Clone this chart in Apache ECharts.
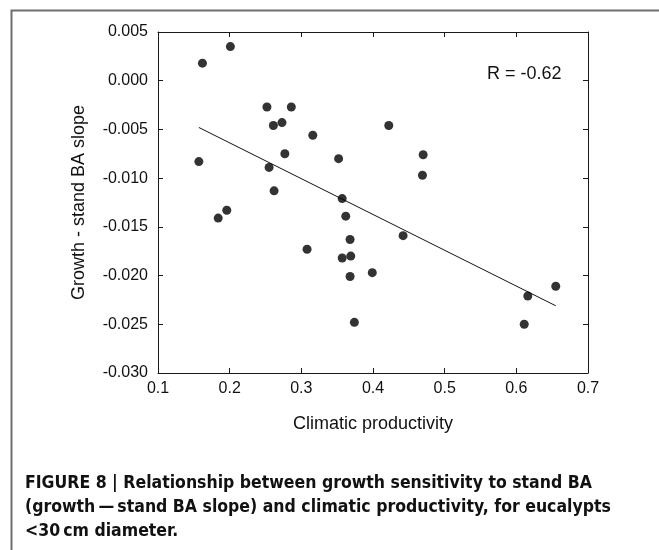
<!DOCTYPE html>
<html>
<head>
<meta charset="utf-8">
<script src="https://cdn.jsdelivr.net/npm/echarts@6/dist/echarts.min.js"></script>
<style>
html,body{margin:0;padding:0;background:#fff;}
#chart{width:659px;height:550px;}
</style>
</head>
<body>
<div id="chart"></div>
<script>
// Climatic productivity (x) and growth - stand BA slope (y)
const xValues = [0.162, 0.201, 0.157, 0.252, 0.286, 0.261, 0.273, 0.316, 0.277, 0.255,
                 0.262, 0.422, 0.352, 0.470, 0.469, 0.357, 0.184, 0.196, 0.308, 0.362,
                 0.368, 0.442, 0.357, 0.369, 0.399, 0.368, 0.374, 0.611, 0.616, 0.655];
const yValues = [0.0018, 0.0035, -0.0083, -0.0027, -0.0027, -0.0046, -0.0043, -0.0056, -0.0075, -0.0089,
                 -0.0113, -0.0046, -0.0080, -0.0076, -0.0097, -0.0121, -0.0141, -0.0133, -0.0173, -0.0139,
                 -0.0163, -0.0159, -0.0182, -0.0180, -0.0197, -0.0201, -0.0248, -0.0250, -0.0221, -0.0211];
// fitted line endpoints
const trendX = [0.157, 0.655];
const trendY = [-0.0048, -0.0231];
const xTicks = [0.1, 0.7, 0.1];   // min, max, interval
const yTicks = [-0.030, 0.005, 0.005];
const rLabel = 'R = -0.62';
const xName = 'Climatic productivity';
const yName = 'Growth - stand BA slope';
const captionLines = [
  'FIGURE 8 | Relationship between growth sensitivity to stand BA',
  '(growth\u2009\u2014\u2009stand BA slope) and climatic productivity, for eucalypts',
  '<30\u2009cm diameter.'
];

const chart = echarts.init(document.getElementById('chart'), null, {renderer: 'canvas'});
const axFont = 'Liberation Sans, Arial, sans-serif';
const lineCol = '#1a1a1a';
const baseX = {
  type: 'value', min: xTicks[0], max: xTicks[1], interval: xTicks[2],
  splitLine: {show: false},
  axisLine: {show: true, onZero: false, lineStyle: {color: lineCol, width: 1}},
  axisTick: {show: true, inside: true, length: 5, lineStyle: {color: lineCol}},
};
const baseY = {
  type: 'value', min: yTicks[0], max: yTicks[1], interval: yTicks[2],
  splitLine: {show: false},
  axisLine: {show: true, onZero: false, lineStyle: {color: lineCol, width: 1}},
  axisTick: {show: true, inside: true, length: 5, lineStyle: {color: lineCol}},
};
const pts = xValues.map((x, i) => [x, yValues[i]]);
const trend = trendX.map((x, i) => [x, trendY[i]]);

const captionGraphics = captionLines.map((t, i) => ({
  type: 'text', left: 25, top: 474 + i * 24,
  style: {text: t, fill: '#111', font: 'bold 17.5px "Liberation Sans Narrow", "DejaVu Sans Condensed", sans-serif'}
}));

chart.setOption({
  animation: false,
  backgroundColor: '#fff',
  grid: {left: 158, top: 32, right: 71, bottom: 177, containLabel: false},
  xAxis: [
    Object.assign({}, baseX, {
      position: 'bottom',
      name: xName, nameLocation: 'middle', nameGap: 42,
      nameTextStyle: {fontSize: 18, color: '#111', fontFamily: axFont},
      axisLabel: {fontSize: 16, color: '#111', fontFamily: axFont, margin: 8,
                  formatter: v => v.toFixed(1)}
    }),
    Object.assign({}, baseX, {position: 'top', axisLabel: {show: false}})
  ],
  yAxis: [
    Object.assign({}, baseY, {
      position: 'left',
      name: yName, nameLocation: 'middle', nameGap: 70,
      nameTextStyle: {fontSize: 18, color: '#111', fontFamily: axFont},
      axisLabel: {fontSize: 16, color: '#111', fontFamily: axFont, margin: 10,
                  formatter: v => (Math.abs(v) < 1e-9 ? 0 : v).toFixed(3)}
    }),
    Object.assign({}, baseY, {position: 'right', axisLabel: {show: false}})
  ],
  series: [
    {
      type: 'line', data: trend, symbol: 'none', silent: true,
      lineStyle: {color: '#111', width: 1}, z: 2
    },
    {
      type: 'scatter', data: pts, symbol: 'circle', symbolSize: 9,
      itemStyle: {color: '#000'}, z: 3
    }
  ],
  graphic: [
    {type: 'rect', left: 9, top: 8, shape: {x: 0, y: 0, width: 700, height: 600},
     style: {fill: 'none', stroke: '#6e6e6e', lineWidth: 2}, z: -1},
    {type: 'text', left: 487, top: 65,
     style: {text: rLabel, fill: '#111', font: '18px "Liberation Sans", Arial, sans-serif'}}
  ].concat(captionGraphics)
});
</script>
</body>
</html>
